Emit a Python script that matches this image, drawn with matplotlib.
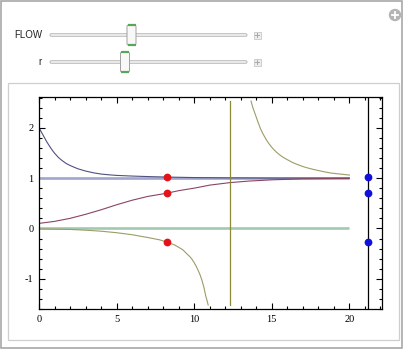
import matplotlib.pyplot as plt
from matplotlib.patches import Rectangle, Circle, FancyBboxPatch
from matplotlib.ticker import MultipleLocator, FuncFormatter

# solution curves
t_high = [0, 0.125, 0.25, 0.375, 0.5, 0.625, 0.75, 0.875, 1.0, 1.25, 1.5, 1.75, 2.0, 2.5, 3.0,
          3.5, 4.0, 4.5, 5.0, 6.0, 7.0, 8.25, 10, 12, 15, 20]
y_high = [2.0, 1.93, 1.86, 1.79, 1.72, 1.66, 1.60, 1.545, 1.495, 1.41, 1.345, 1.29, 1.25, 1.185, 1.14,
          1.105, 1.08, 1.065, 1.053, 1.04, 1.03, 1.02, 1.01, 1.005, 1.0, 1.0]

t_mid = [0, 1, 2, 3, 4, 5, 6, 7, 8.25, 9, 10, 11, 12.3, 13.5, 15, 17, 20]
y_mid = [0.10, 0.14, 0.20, 0.28, 0.37, 0.47, 0.56, 0.635, 0.70, 0.75, 0.80, 0.86, 0.91, 0.94, 0.965, 0.985, 0.995]

t_low = [0, 2, 3, 4, 5, 6, 7, 7.75, 8.25, 8.75, 9.25, 9.75, 9.875, 10.0, 10.125, 10.25, 10.375,
         10.5, 10.625, 10.75, 10.825, 10.9]
y_low = [-0.01, -0.02, -0.035, -0.055, -0.085, -0.125, -0.18, -0.225, -0.27, -0.33, -0.42, -0.57, -0.62,
         -0.68, -0.75, -0.83, -0.92, -1.03, -1.17, -1.35, -1.43, -1.52]

t_back = [13.66, 13.73, 13.8, 13.87, 13.94, 14.02, 14.1, 14.18, 14.26, 14.38, 14.5, 14.6, 14.7, 14.85,
          15.0, 15.15, 15.3, 15.45, 15.6, 15.8, 16.0, 16.3, 16.6, 16.9, 17.2, 17.45, 17.7, 18.0,
          18.3, 18.55, 18.8, 19.1, 19.4, 19.7, 20.0]
y_back = [2.53, 2.45, 2.38, 2.32, 2.26, 2.19, 2.12, 2.055, 1.99, 1.91, 1.84, 1.785, 1.735, 1.67,
          1.61, 1.56, 1.515, 1.475, 1.44, 1.40, 1.365, 1.315, 1.275, 1.24, 1.21, 1.19, 1.17, 1.15,
          1.13, 1.115, 1.10, 1.09, 1.08, 1.07, 1.06]

fixed_points = [1, 0]
t_range = [0, 20]
blowup_t = 12.3
clip_y = [-1.52, 2.53]

flow_t = 8.25
flow_vals = [1.02, 0.70, -0.27]
end_t = 21.2

x_ticks = [0, 5, 10, 15, 20]
y_ticks = [-1, 0, 1, 2]

W, H = 409, 351
fig = plt.figure(figsize=(W / 100, H / 100), dpi=100)
fig.patch.set_facecolor('white')

# panel decoration in pixel coords
ui = fig.add_axes([0, 0, 1, 1], zorder=0)
ui.set_xlim(0, W)
ui.set_ylim(H, 0)
ui.axis('off')
ui.add_patch(Rectangle((0.5, 0.5), 401, 347, fill=False, ec='#a8a8a8', lw=1.2))
ui.add_patch(Rectangle((7.5, 82.5), 391.5, 257.5, fill=False, ec='#cfcfcf', lw=0.9))
ui.add_patch(Circle((395, 15), 5.5, color='#b4b4b4'))
ui.plot([392, 398], [15, 15], color='white', lw=1.3)
ui.plot([395, 395], [12, 18], color='white', lw=1.3)

sliders = [('FLOW', 35, 131.5), ('r', 62, 125)]
for name, yy, xthumb in sliders:
    ui.text(42, yy, name, ha='right', va='center', fontsize=7,
            family='Liberation Sans', color='#222222')
    ui.add_patch(FancyBboxPatch((50, yy - 1.3), 197, 2.6, boxstyle='round,pad=0,rounding_size=1.3',
                                fc='#f4f4f4', ec='#b8b8b8', lw=0.7))
    ui.add_patch(FancyBboxPatch((xthumb - 4.5, yy - 10), 9, 20, boxstyle='round,pad=0,rounding_size=1.5',
                                fc='#f8f8f8', ec='#a0a0a0', lw=0.7))
    ui.plot([xthumb - 4, xthumb + 4], [yy - 9.6, yy - 9.6], color='#5aa55a', lw=1.6, solid_capstyle='butt')
    ui.plot([xthumb - 4, xthumb + 4], [yy + 9.6, yy + 9.6], color='#5aa55a', lw=1.6, solid_capstyle='butt')
    ui.add_patch(Rectangle((253.5, yy - 3.5), 7, 7, fc='#ededed', ec='#c8c8c8', lw=0.6))
    ui.plot([254.8, 259.2], [yy, yy], color='#a8a8a8', lw=0.7)
    ui.plot([257, 257], [yy - 2.2, yy + 2.2], color='#a8a8a8', lw=0.7)

# main plot
ax = fig.add_axes([39 / W, (H - 309) / H, 343 / W, 212 / H], zorder=1)
ax.set_facecolor('white')

ax.plot(t_range, [fixed_points[0]] * 2, color='#a0a6cc', lw=1.9, solid_capstyle='butt')
ax.plot(t_range, [fixed_points[1]] * 2, color='#a2c9b2', lw=1.9, solid_capstyle='butt')
ax.plot(t_high, y_high, color='#505080', lw=0.8)
ax.plot(t_mid, y_mid, color='#8a4464', lw=0.8)
ax.plot(t_low, y_low, color='#9c9c68', lw=0.8)
ax.plot(t_back, y_back, color='#9c9c68', lw=0.8)
ax.plot([blowup_t, blowup_t], clip_y, color='#8a8a34', lw=0.9)
ax.axvline(end_t, color='black', lw=0.9)
ax.plot([flow_t] * 3, flow_vals, 'o', color='#e3131b', ms=5.6, mec='none')
ax.plot([end_t] * 3, flow_vals, 'o', color='#1010dd', ms=5.6, mec='none')

ax.set_xlim(0, 22.1)
ax.set_ylim(-1.6, 2.61)
ax.set_xticks(x_ticks)
ax.set_yticks(y_ticks)
ax.xaxis.set_minor_locator(MultipleLocator(1))
ax.yaxis.set_minor_locator(MultipleLocator(0.2))
ax.yaxis.set_major_formatter(FuncFormatter(lambda v, p: '%d' % v))
ax.tick_params(which='both', direction='in', top=True, right=True,
               labelsize=7.5, pad=4, width=0.8)
ax.tick_params(which='major', length=4.5)
ax.tick_params(which='minor', length=2.5)
for lab in ax.get_xticklabels() + ax.get_yticklabels():
    lab.set_family('Liberation Serif')
for s in ax.spines.values():
    s.set_linewidth(0.9)

plt.savefig('out.png', dpi=100)
